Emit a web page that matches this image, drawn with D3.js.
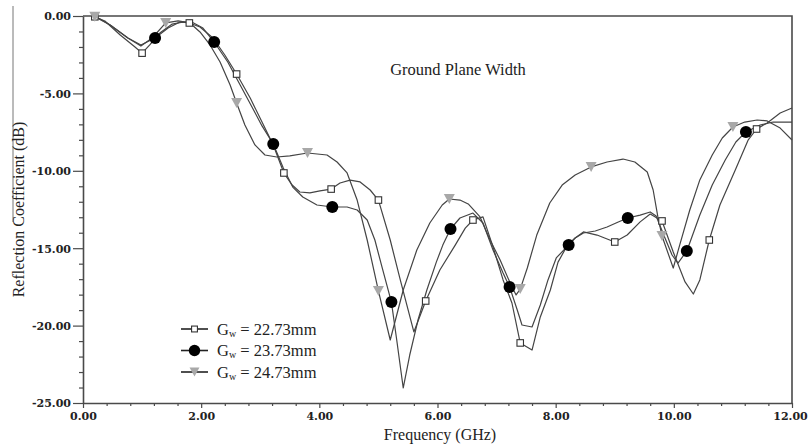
<!DOCTYPE html>
<html>
<head>
<meta charset="utf-8">
<script src="https://cdn.jsdelivr.net/npm/d3@7"></script>
<style>
  html, body { margin: 0; padding: 0; background: #fff; }
  svg { display: block; }
</style>
</head>
<body>
<div id="chart"></div>
<script>
// chart values
var xTicks = [0, 2, 4, 6, 8, 10, 12],
    yTicks = [0, -5, -10, -15, -20, -25],
    labels = ['22.73mm', '23.73mm', '24.73mm'];

// Gw = 22.73mm  [GHz, dB]
var gw2273 = [
  [0.15, 0], [0.2, -0.05], [0.37, -0.32], [0.63, -1.23], [0.88, -2.0], [1.0, -2.4],
  [1.13, -1.87], [1.3, -1.1], [1.51, -0.52], [1.68, -0.39], [1.8, -0.45], [1.98, -0.71],
  [2.2, -1.42], [2.4, -2.52], [2.6, -3.75], [2.83, -5.3], [3.03, -6.85], [3.22, -8.33],
  [3.4, -10.14], [3.54, -10.92], [3.67, -11.37], [3.84, -11.43], [4.01, -11.3], [4.2, -11.18],
  [4.35, -10.79], [4.52, -10.6], [4.69, -10.72], [4.86, -11.24], [5.0, -11.89], [5.2, -14.47],
  [5.37, -17.05], [5.6, -20.41], [5.8, -18.41], [6.04, -16.41], [6.3, -14.8], [6.47, -13.7],
  [6.6, -13.18], [6.77, -12.98], [6.94, -14.92], [7.11, -17.05], [7.26, -18.54], [7.4, -21.12],
  [7.6, -21.58], [7.74, -19.44], [7.91, -17.7], [8.04, -15.9], [8.2, -14.8], [8.33, -14.34],
  [8.47, -13.95], [8.7, -14.15], [9.0, -14.6], [9.21, -14.15], [9.43, -13.3], [9.6, -12.79],
  [9.8, -13.24], [9.99, -15.25], [10.19, -17.18], [10.33, -17.96], [10.44, -17.05], [10.6, -14.47],
  [10.78, -12.21], [11.04, -9.95], [11.26, -8.0], [11.4, -7.3], [11.58, -6.91], [11.8, -6.27],
  [12.0, -5.94]
];
// Gw = 23.73mm
var gw2373 = [
  [0.15, 0], [0.22, -0.05], [0.46, -0.58], [0.76, -1.42], [0.98, -1.87], [1.22, -1.42],
  [1.44, -0.78], [1.64, -0.39], [1.84, -0.39], [2.03, -0.78], [2.22, -1.68], [2.45, -2.97],
  [2.66, -4.46], [2.86, -5.88], [3.03, -7.1], [3.22, -8.27], [3.39, -9.82], [3.55, -11.05],
  [3.72, -11.69], [3.96, -12.21], [4.22, -12.34], [4.47, -12.34], [4.64, -12.53], [4.81, -13.18],
  [4.94, -14.47], [5.06, -16.21], [5.22, -18.48], [5.31, -20.93], [5.42, -24.03], [5.53, -21.9],
  [5.67, -19.64], [5.82, -17.7], [5.98, -15.9], [6.09, -14.8], [6.22, -13.76], [6.38, -13.05],
  [6.6, -12.73], [6.77, -13.37], [6.94, -15.12], [7.11, -16.6], [7.22, -17.5], [7.35, -18.99],
  [7.43, -19.96], [7.6, -20.09], [7.74, -18.67], [7.87, -17.05], [8.01, -15.63], [8.22, -14.79],
  [8.33, -14.34], [8.47, -14.02], [8.67, -13.89], [8.87, -13.63], [9.06, -13.31], [9.22, -13.05],
  [9.43, -12.86], [9.6, -12.66], [9.7, -12.92], [9.85, -14.34], [9.97, -15.44], [10.07, -15.96],
  [10.22, -15.18], [10.44, -12.86], [10.65, -10.92], [10.87, -9.3], [11.05, -8.14], [11.22, -7.49],
  [11.46, -7.04], [11.68, -6.85], [12.0, -6.85]
];
// Gw = 24.73mm
var gw2473 = [
  [0.15, 0], [0.2, -0.05], [0.46, -0.58], [0.76, -1.42], [0.98, -1.94], [1.17, -1.42],
  [1.4, -0.45], [1.61, -0.32], [1.81, -0.45], [1.98, -1.03], [2.15, -1.87], [2.32, -2.97],
  [2.49, -4.46], [2.6, -5.62], [2.74, -7.04], [2.91, -8.33], [3.08, -8.98], [3.28, -9.11],
  [3.5, -9.04], [3.8, -8.85], [4.13, -8.98], [4.3, -9.43], [4.47, -10.14], [4.64, -11.89],
  [4.81, -14.47], [5.0, -17.76], [5.2, -20.93], [5.42, -17.7], [5.65, -15.12], [5.87, -13.37],
  [6.08, -12.21], [6.2, -11.82], [6.38, -11.89], [6.52, -12.14], [6.72, -12.98], [6.89, -14.47],
  [7.06, -15.76], [7.23, -17.25], [7.33, -18.02], [7.4, -17.64], [7.52, -16.28], [7.68, -14.15],
  [7.9, -12.08], [8.11, -10.92], [8.33, -10.27], [8.6, -9.75], [8.87, -9.43], [9.14, -9.24],
  [9.34, -9.43], [9.55, -10.08], [9.65, -11.24], [9.73, -12.98], [9.8, -14.21], [9.99, -16.28],
  [10.1, -14.79], [10.27, -12.53], [10.44, -10.59], [10.65, -8.98], [10.82, -7.88], [11.0, -7.17],
  [11.2, -6.85], [11.41, -6.72], [11.58, -6.78], [11.8, -7.24], [12.0, -8.01]
];

// frequencies where each curve carries a marker
var marks2273 = [0.2, 1.0, 1.8, 2.6, 3.4, 4.2, 5.0, 5.8, 6.6, 7.4, 8.2, 9.0, 9.8, 10.6, 11.4],
    marks2373 = [1.22, 2.22, 3.22, 4.22, 5.22, 6.22, 7.22, 8.22, 9.22, 10.22, 11.22],
    marks2473 = [0.2, 1.4, 2.6, 3.8, 5.0, 6.2, 7.4, 8.6, 9.8, 11.0];

var W = 808, H = 445,
    plotL = 83, plotR = 792, plotT = 16, plotB = 403,
    axisColor = '#4a4a4a',
    lineColor = '#444',
    serif = '"Liberation Serif", "Times New Roman", serif',
    tickFont = '"DejaVu Serif", serif',
    fmt = function(d){ return d3.format('.2f')(d).replace('\u2212', '-'); };

var svg = d3.select('#chart').append('svg')
    .attr('width', W)
    .attr('height', H);

var x = d3.scaleLinear().domain([0, 12]).range([plotL, plotR]),
    y = d3.scaleLinear().domain([0, -25]).range([plotT, plotB]);

// frame (top and right)
svg.append('path')
    .attr('d', 'M' + plotL + ',' + plotT + 'H' + plotR + 'V' + plotB)
    .attr('fill', 'none')
    .attr('stroke', axisColor)
    .attr('stroke-width', 1.6);

// stray border line at the far left of the original scan
svg.append('line')
    .attr('x1', 13).attr('x2', 13).attr('y1', 6).attr('y2', 222)
    .attr('stroke', '#777').attr('stroke-width', 1);

// y axis
var yAxisG = svg.append('g')
    .attr('transform', 'translate(' + plotL + ',0)')
    .call(d3.axisLeft(y).tickValues(d3.range(0, -25.5, -1))
        .tickSize(4).tickSizeOuter(0).tickFormat(''));
yAxisG.selectAll('.tick line').filter(function(d){ return d % 5 === 0; })
    .attr('x2', -10);
yAxisG.selectAll('.tick').filter(function(d){ return d % 5 === 0; })
    .append('text')
    .attr('x', -12).attr('dy', '0.35em')
    .attr('text-anchor', 'end')
    .attr('fill', '#222')
    .style('font', 'bold 11px ' + tickFont)
    .text(fmt);

// x axis
var xAxisG = svg.append('g')
    .attr('transform', 'translate(0,' + plotB + ')')
    .call(d3.axisBottom(x).tickValues(d3.range(0, 12.01, 0.4))
        .tickSize(3).tickSizeOuter(0).tickFormat(''));
function isMajor(d) { return xTicks.some(function(t){ return Math.abs(t - d) < 1e-6; }); }
xAxisG.selectAll('.tick line').filter(isMajor).attr('y2', 5);
xAxisG.selectAll('.tick').filter(isMajor)
    .append('text')
    .attr('y', 17)
    .attr('x', function(d){ return d > 11.9 ? -2 : 0; })
    .attr('text-anchor', 'middle')
    .attr('fill', '#222')
    .style('font', 'bold 11px ' + tickFont)
    .text(fmt);

[yAxisG, xAxisG].forEach(function(g){
    g.select('.domain').attr('stroke', axisColor).attr('stroke-width', 1.6);
    g.selectAll('.tick line').attr('stroke', axisColor).attr('stroke-width', 1.2);
});

// axis titles
svg.append('text')
    .attr('transform', 'translate(24,' + ((plotT + plotB) / 2) + ') rotate(-90)')
    .attr('text-anchor', 'middle')
    .style('font', '16px ' + serif)
    .attr('fill', '#222')
    .text('Reflection Coefficient (dB)');

svg.append('text')
    .attr('x', 440).attr('y', 440)
    .attr('text-anchor', 'middle')
    .style('font', '16px ' + serif)
    .attr('fill', '#222')
    .text('Frequency (GHz)');

svg.append('text')
    .attr('x', 458).attr('y', 75)
    .attr('text-anchor', 'middle')
    .style('font', '16.5px ' + serif)
    .attr('fill', '#222')
    .text('Ground Plane Width');

// curves
var line = d3.line().x(function(d){ return x(d[0]); }).y(function(d){ return y(d[1]); });
var series = [
    { data: gw2273, marks: marks2273, kind: 'square' },
    { data: gw2373, marks: marks2373, kind: 'circle' },
    { data: gw2473, marks: marks2473, kind: 'triangle' }
];

series.forEach(function(s){
    svg.append('path')
        .datum(s.data)
        .attr('d', line)
        .attr('fill', 'none')
        .attr('stroke', lineColor)
        .attr('stroke-width', 1.2)
        .attr('stroke-linejoin', 'round');
});

function drawMarker(g, kind, cx, cy, scale) {
    scale = scale || 1;
    if (kind === 'square') {
        var s = 6.5 * scale;
        g.append('rect')
            .attr('x', cx - s / 2).attr('y', cy - s / 2)
            .attr('width', s).attr('height', s)
            .attr('fill', '#fff').attr('stroke', '#333').attr('stroke-width', 1.1);
    } else if (kind === 'circle') {
        g.append('circle')
            .attr('cx', cx).attr('cy', cy).attr('r', 6 * scale)
            .attr('fill', '#000');
    } else {
        var w = 5.5 * scale, h = 10 * scale;
        g.append('path')
            .attr('d', 'M' + (cx - w) + ',' + (cy - h / 2) + 'L' + (cx + w) + ',' + (cy - h / 2) +
                'L' + cx + ',' + (cy + h / 2) + 'Z')
            .attr('fill', '#a8a8a8');
    }
}

series.forEach(function(s){
    var g = svg.append('g');
    s.marks.forEach(function(f){
        var p = s.data.find(function(d){ return Math.abs(d[0] - f) < 1e-6; });
        if (p) drawMarker(g, s.kind, x(p[0]), y(p[1]));
    });
});

// legend
var legend = svg.append('g');
series.forEach(function(s, i){
    var ly = 329 + i * 21.5;
    legend.append('line')
        .attr('x1', 181).attr('x2', 208).attr('y1', ly).attr('y2', ly)
        .attr('stroke', '#222').attr('stroke-width', 1.6);
    drawMarker(legend, s.kind, 194.5, ly, s.kind === 'circle' ? 0.95 : 0.9);
    var t = legend.append('text')
        .attr('x', 217).attr('y', ly + 5.5)
        .style('font', '16.5px ' + serif)
        .attr('fill', '#222');
    t.append('tspan').text('G');
    t.append('tspan').attr('dy', 2).style('font-size', '10px').text('w');
    t.append('tspan').attr('dy', -2).text(' = ' + labels[i]);
});
</script>
</body>
</html>
